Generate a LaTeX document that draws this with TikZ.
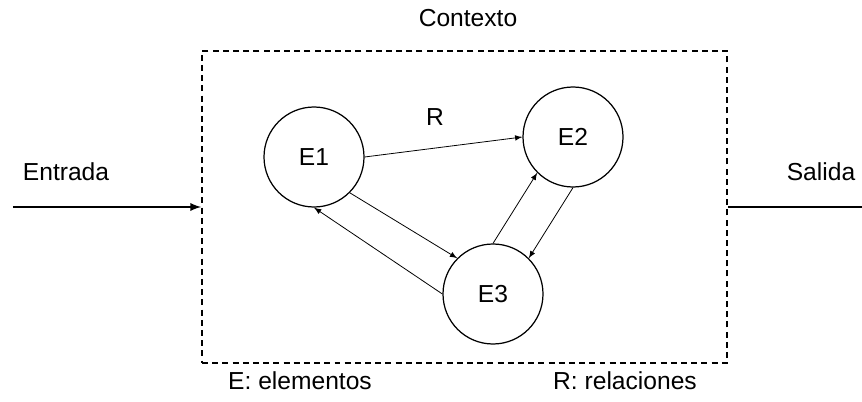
\documentclass[tikz,border=0pt]{standalone}
\usepackage{fontspec}
\setmainfont{Liberation Sans}
\usetikzlibrary{positioning}

\begin{document}
\begin{tikzpicture}[
    font=\fontsize{14}{17}\selectfont,
    elem/.style={circle, draw=black, line width=0.7pt, minimum size=2cm, inner sep=0pt},
    context/.style={rectangle, draw=black, line width=1pt, dash pattern=on 3.4pt off 2.4pt, minimum width=10.5cm, minimum height=6.24cm},
    rel/.style={-latex, line width=0.45pt},
    io/.style={line width=1.1pt},
    lbl/.style={inner sep=0pt}
]
\useasboundingbox (0,0) rectangle (17.24,8.02);

% Context box
\node[context] (ctx) at (9.29,3.88) {};
\node[lbl] (ctxlabel) at (9.36,7.66) {Contexto};

% Elements
\node[elem] (e1) at (6.28,4.88) {E1};
\node[elem] (e2) at (11.46,5.28) {E2};
\node[elem] (e3) at (9.86,2.14) {E3};
\node[lbl] (rlabel) at (8.70,5.68) {R};

% Input and output
\node[lbl] (in) at (1.32,4.58) {Entrada};
\node[lbl] (out) at (16.42,4.58) {Salida};
\coordinate (instart) at (0.26,3.88);
\coordinate (outend) at (17.24,3.88);

% Legend
\node[lbl] (legE) at (6.00,0.40) {E: elementos};
\node[lbl] (legR) at (12.50,0.40) {R: relaciones};

% Input / output lines
\draw[io, -latex] (instart) -- (ctx.west);
\draw[io] (ctx.east) -- (outend);

% Relations between elements
\draw[rel] (e1.east) -- (e2.west);
\draw[rel] (e1.south east) -- (e3.north west);
\draw[rel] (e3.west) -- (e1.south);
\draw[rel] (e3.north) -- (e2.south west);
\draw[rel] (e2.south) -- (e3.north east);

\end{tikzpicture}
\end{document}
